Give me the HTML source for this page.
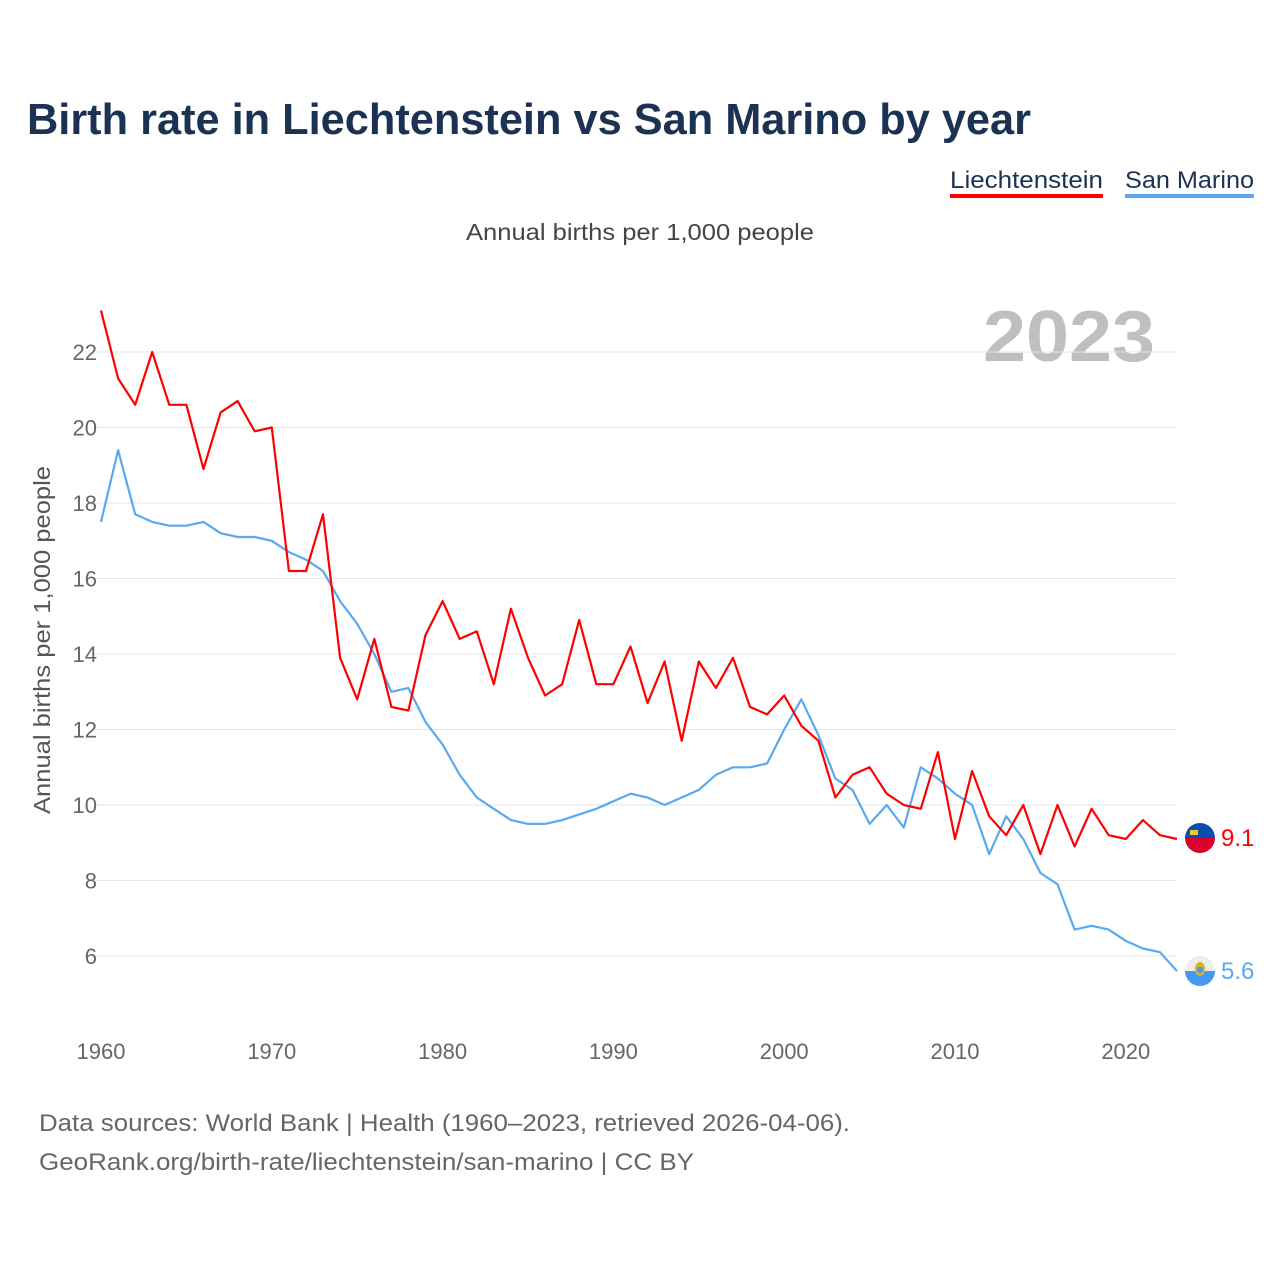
<!DOCTYPE html>
<html><head><meta charset="utf-8"><style>
body{margin:0;background:#fff;width:1280px;height:1280px;overflow:hidden;font-family:"Liberation Sans",sans-serif}
</style></head><body>
<svg width="1280" height="1280" xmlns="http://www.w3.org/2000/svg" id="chart">
<text x="27" y="134" font-size="44" font-weight="bold" fill="#1b3252" textLength="1004" lengthAdjust="spacingAndGlyphs">Birth rate in Liechtenstein vs San Marino by year</text>
<g>
<text x="950" y="188" font-size="24" fill="#1b3252" textLength="153" lengthAdjust="spacingAndGlyphs">Liechtenstein</text>
<rect x="950" y="194" width="153" height="4" fill="#ff0000"/>
<text x="1125" y="188" font-size="24" fill="#1b3252" textLength="129" lengthAdjust="spacingAndGlyphs">San Marino</text>
<rect x="1125" y="194" width="129" height="4" fill="#5aa9f0"/>
</g>
<text x="466" y="240" font-size="23" fill="#444" textLength="348" lengthAdjust="spacingAndGlyphs">Annual births per 1,000 people</text>
<text x="1155" y="361" font-size="72" font-weight="bold" fill="#bfbfbf" text-anchor="end" textLength="172" lengthAdjust="spacingAndGlyphs">2023</text>
<text transform="translate(50,640) rotate(-90)" font-size="23" fill="#555" text-anchor="middle" textLength="348" lengthAdjust="spacingAndGlyphs">Annual births per 1,000 people</text>
<g id="grid"></g><g id="lines"></g>
<g>
<clipPath id="c1"><circle cx="1200" cy="838" r="15"/></clipPath>
<g clip-path="url(#c1)"><rect x="1185" y="823" width="30" height="15" fill="#0b4fae"/><rect x="1185" y="838" width="30" height="15" fill="#d9002e"/><rect x="1190" y="830" width="8" height="5" fill="#f5c530"/></g>
</g>
<g>
<clipPath id="c2"><circle cx="1200" cy="971" r="15"/></clipPath>
<g clip-path="url(#c2)"><rect x="1185" y="956" width="30" height="15" fill="#eeeeee"/><rect x="1185" y="971" width="30" height="15" fill="#4499ee"/><ellipse cx="1200" cy="969" rx="5" ry="7" fill="#d4b030"/><circle cx="1200" cy="970" r="3" fill="#4499ee"/></g>
</g>
<text x="1221" y="846" font-size="24" fill="#ff0000">9.1</text>
<text x="1221" y="979" font-size="24" fill="#5aa9f0">5.6</text>
<text x="39" y="1131" font-size="24" fill="#666" textLength="811" lengthAdjust="spacingAndGlyphs">Data sources: World Bank | Health (1960–2023, retrieved 2026-04-06).</text>
<text x="39" y="1170" font-size="24" fill="#666" textLength="655" lengthAdjust="spacingAndGlyphs">GeoRank.org/birth-rate/liechtenstein/san-marino | CC BY</text>
</svg>
<script>
const startYear=1960;
const liechtenstein=[23.1,21.3,20.6,22.0,20.6,20.6,18.9,20.4,20.7,19.9,20.0,16.2,16.2,17.7,13.9,12.8,14.4,12.6,12.5,14.5,15.4,14.4,14.6,13.2,15.2,13.9,12.9,13.2,14.9,13.2,13.2,14.2,12.7,13.8,11.7,13.8,13.1,13.9,12.6,12.4,12.9,12.1,11.7,10.2,10.8,11.0,10.3,10.0,9.9,11.4,9.1,10.9,9.7,9.2,10.0,8.7,10.0,8.9,9.9,9.2,9.1,9.6,9.2,9.1];
const sanMarino=[17.5,19.4,17.7,17.5,17.4,17.4,17.5,17.2,17.1,17.1,17.0,16.7,16.5,16.2,15.4,14.8,14.0,13.0,13.1,12.2,11.6,10.8,10.2,9.9,9.6,9.5,9.5,9.6,9.75,9.9,10.1,10.3,10.2,10.0,10.2,10.4,10.8,11.0,11.0,11.1,12.0,12.8,11.85,10.7,10.4,9.5,10.0,9.4,11.0,10.7,10.3,10.0,8.7,9.7,9.1,8.2,7.9,6.7,6.8,6.7,6.4,6.2,6.1,5.6];
const yTicks=[6,8,10,12,14,16,18,20,22];
const xTicks=[1960,1970,1980,1990,2000,2010,2020];
const X=y=>101+(y-1960)*17.08;
const Y=v=>352+(22-v)*37.75;
const NS='http://www.w3.org/2000/svg';
const grid=document.getElementById('grid'),lines=document.getElementById('lines');
function mk(t,a,p){const e=document.createElementNS(NS,t);for(const k in a)e.setAttribute(k,a[k]);p.appendChild(e);return e;}
yTicks.forEach(v=>{
 const l=mk('line',{x1:95,x2:1176,y1:Y(v),y2:Y(v),stroke:'#e6e6e6','stroke-width':1},grid);
 
 
 const t=mk('text',{x:97,y:Y(v)+8,'font-size':22,fill:'#666','text-anchor':'end'},grid);t.textContent=v;
 
 
});
xTicks.forEach(v=>{
 const t=mk('text',{x:X(v),y:1059,'font-size':22,fill:'#666','text-anchor':'middle'},grid);t.textContent=v;
 
 
});
function line(arr,color,name){
 const d=arr.map((v,i)=>(i?'L':'M')+X(startYear+i).toFixed(1)+','+Y(v).toFixed(1)).join(' ');
 const p=mk('path',{d:d,fill:'none',stroke:color,'stroke-width':2.2,'stroke-linejoin':'round'},lines);
 
 
}
line(sanMarino,'#5aa9f0','line-san-marino');
line(liechtenstein,'#ff0000','line-liechtenstein');
</script>
</body></html>
